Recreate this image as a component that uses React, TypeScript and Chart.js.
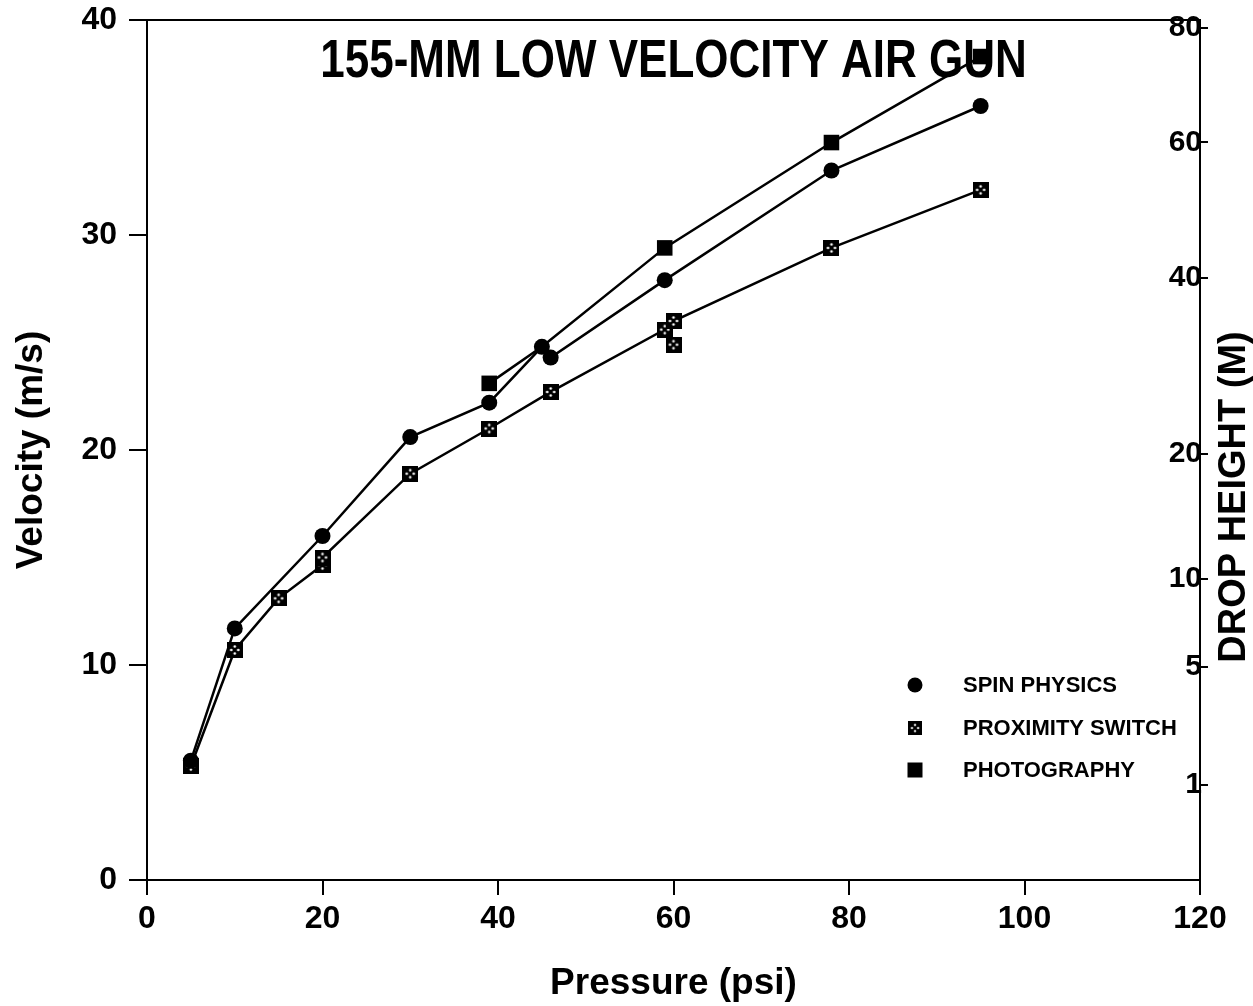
import React, { useEffect, useRef } from "react";
import { Chart, registerables } from "chart.js";

Chart.register(...registerables);

// ---- data ----
const spinX = [5, 10, 20, 30, 39, 45, 46, 59, 78, 95];
const spinY = [5.55, 11.7, 16.0, 20.6, 22.2, 24.8, 24.3, 27.9, 33.0, 36.0];

const proxX = [5, 10, 15, 20, 20, 30, 39, 46, 59, 60, 78, 95];
const proxY = [5.3, 10.7, 13.1, 14.65, 15.0, 18.9, 21.0, 22.7, 25.6, 26.0, 29.4, 32.1];
const proxExtraX = [60];
const proxExtraY = [24.9];

const photoX = [39, 45, 59, 78, 95];
const photoY = [23.1, 24.8, 29.4, 34.3, 38.3];
const photoMarker = [true, false, true, true, true];

const xTicks = [0, 20, 40, 60, 80, 100, 120];
const velocityTicks = [0, 10, 20, 30, 40];
const dropHeightTicks = [80, 60, 40, 20, 10, 5, 1];
const G = 9.81;

const titleText = "155-MM LOW VELOCITY AIR GUN";
const xTitle = "Pressure (psi)";
const yTitle = "Velocity (m/s)";
const y2Title = "DROP HEIGHT (M)";
const legendLabels = ["SPIN PHYSICS", "PROXIMITY SWITCH", "PHOTOGRAPHY"];

const FONT = "'Liberation Sans', Arial, Helvetica, sans-serif";

function makeProxMarker(): HTMLCanvasElement {
  const c = document.createElement("canvas");
  c.width = 16;
  c.height = 16;
  const ctx = c.getContext("2d")!;
  ctx.fillStyle = "#000";
  ctx.fillRect(0, 0, 16, 16);
  ctx.fillStyle = "#fff";
  const dots = [
    [8, 4.5],
    [4.5, 8],
    [11.5, 8],
    [8, 11.5],
  ];
  dots.forEach(([x, y]) => {
    ctx.beginPath();
    ctx.arc(x, y, 1.3, 0, Math.PI * 2);
    ctx.fill();
  });
  return c;
}

const toPts = (xs: number[], ys: number[]) => xs.map((x, i) => ({ x, y: ys[i] }));

export default function App() {
  const ref = useRef<HTMLCanvasElement | null>(null);

  useEffect(() => {
    document.body.style.margin = "0";
    const canvas = ref.current!;
    const prox = makeProxMarker();

    const overlay = {
      id: "overlay",
      afterDraw(chart: any) {
        const ctx = chart.ctx as CanvasRenderingContext2D;
        const ca = chart.chartArea;
        ctx.save();
        ctx.fillStyle = "#000";
        ctx.strokeStyle = "#000";
        // top border
        ctx.lineWidth = 2;
        ctx.beginPath();
        ctx.moveTo(ca.left, ca.top);
        ctx.lineTo(ca.right, ca.top);
        ctx.stroke();
        // title
        ctx.save();
        ctx.font = `bold 44px ${FONT}`;
        ctx.textAlign = "center";
        ctx.textBaseline = "middle";
        ctx.translate((ca.left + ca.right) / 2, 62);
        ctx.scale(1, 1.2);
        ctx.fillText(titleText, 0, 0);
        ctx.restore();
        // right title
        ctx.save();
        ctx.font = `bold 38px ${FONT}`;
        ctx.textAlign = "center";
        ctx.textBaseline = "middle";
        ctx.translate(1235, 497);
        ctx.rotate(-Math.PI / 2);
        ctx.fillText(y2Title, 0, 0);
        ctx.restore();
        // legend
        const lx = 915;
        const rows = [685, 728, 770];
        ctx.font = `bold 22px ${FONT}`;
        ctx.textAlign = "left";
        ctx.textBaseline = "middle";
        legendLabels.forEach((t, i) => {
          const y = rows[i];
          if (i === 0) {
            ctx.beginPath();
            ctx.arc(lx, y, 7.5, 0, Math.PI * 2);
            ctx.fill();
          } else if (i === 1) {
            ctx.drawImage(prox, lx - 7, y - 7, 14, 14);
          } else {
            ctx.fillRect(lx - 7.5, y - 7.5, 15, 15);
          }
          ctx.fillText(t, 963, y + 1);
        });
        ctx.restore();
      },
    };

    const zeroVPad = (s: any) => {
      s.paddingTop = 0;
      s.paddingBottom = 0;
    };

    const chart = new Chart(canvas, {
      type: "scatter",
      data: {
        datasets: [
          {
            label: legendLabels[0],
            data: toPts(spinX, spinY),
            showLine: true,
            borderColor: "#000",
            backgroundColor: "#000",
            borderWidth: 2.5,
            pointStyle: "circle",
            pointRadius: 8,
            pointBorderWidth: 0,
            tension: 0,
          },
          {
            label: legendLabels[1],
            data: toPts(proxX, proxY),
            showLine: true,
            borderColor: "#000",
            backgroundColor: "#000",
            borderWidth: 2.5,
            pointStyle: prox as any,
            pointRadius: 8,
            tension: 0,
          },
          {
            label: legendLabels[1] + " (extra)",
            data: toPts(proxExtraX, proxExtraY),
            showLine: false,
            borderColor: "#000",
            backgroundColor: "#000",
            pointStyle: prox as any,
            pointRadius: 8,
          },
          {
            label: legendLabels[2],
            data: toPts(photoX, photoY),
            showLine: true,
            borderColor: "#000",
            backgroundColor: "#000",
            borderWidth: 2.5,
            pointStyle: "rect",
            pointRadius: photoMarker.map((m) => (m ? 11 : 0)),
            pointBorderWidth: 0,
            tension: 0,
          },
        ],
      },
      options: {
        animation: false,
        responsive: true,
        maintainAspectRatio: false,
        layout: { padding: { top: 20, left: 0, right: 0, bottom: 0 } },
        plugins: {
          legend: { display: false },
          tooltip: { enabled: false },
          title: { display: false },
        },
        scales: {
          x: {
            type: "linear",
            min: 0,
            max: 120,
            afterBuildTicks: (s: any) => {
              s.ticks = xTicks.map((v) => ({ value: v }));
            },
            afterFit: (s: any) => {
              s.height = 126;
              s.paddingLeft = 0;
              s.paddingRight = 0;
            },
            border: { display: true, color: "#000", width: 2 },
            grid: { drawOnChartArea: false, drawTicks: true, tickLength: 15, color: "#000", lineWidth: 2 },
            ticks: {
              color: "#000",
              font: { family: FONT, weight: "bold", size: 32 },
              padding: 5,
              autoSkip: false,
              maxRotation: 0,
            },
            title: {
              display: true,
              text: xTitle,
              color: "#000",
              font: { family: FONT, weight: "bold", size: 37, lineHeight: 1.2 },
              padding: { top: 0, bottom: 0 },
            },
          },
          y: {
            type: "linear",
            position: "left",
            min: 0,
            max: 40,
            afterBuildTicks: (s: any) => {
              s.ticks = velocityTicks.map((v) => ({ value: v }));
            },
            afterFit: (s: any) => {
              s.width = 147;
              zeroVPad(s);
            },
            border: { display: true, color: "#000", width: 2 },
            grid: { drawOnChartArea: false, drawTicks: true, tickLength: 18, color: "#000", lineWidth: 2 },
            ticks: {
              color: "#000",
              font: { family: FONT, weight: "bold", size: 32 },
              padding: 12,
              autoSkip: false,
            },
            title: {
              display: true,
              text: yTitle,
              color: "#000",
              font: { family: FONT, weight: "bold", size: 37, lineHeight: 1.2 },
              padding: { top: 10, bottom: 0 },
            },
          },
          y2: {
            type: "linear",
            position: "right",
            min: 0,
            max: 40,
            afterBuildTicks: (s: any) => {
              s.ticks = dropHeightTicks.map((h) => ({ value: Math.sqrt(2 * G * h) }));
            },
            afterFit: (s: any) => {
              s.width = 53;
              zeroVPad(s);
            },
            border: { display: true, color: "#000", width: 2 },
            grid: { drawOnChartArea: false, drawTicks: true, tickLength: 8, color: "#000", lineWidth: 2 },
            ticks: {
              color: "#000",
              font: { family: FONT, weight: "bold", size: 30 },
              mirror: true,
              padding: 2,
              autoSkip: false,
              callback: (_v: any, i: number) => String(dropHeightTicks[i]),
            },
            title: { display: false },
          },
        },
      } as any,
      plugins: [overlay],
    });

    return () => chart.destroy();
  }, []);

  return (
    <div style={{ position: "fixed", left: 0, top: 0, width: 1253, height: 1006, background: "#fff" }}>
      <canvas ref={ref} />
    </div>
  );
}
